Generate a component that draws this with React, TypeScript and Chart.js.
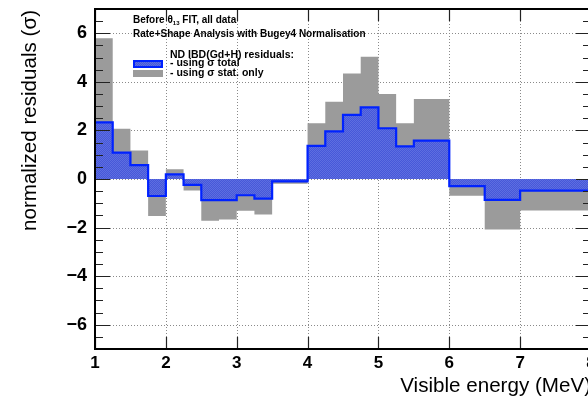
import React, { useEffect, useRef } from "react";
import { Chart, registerables } from "chart.js";

Chart.register(...registerables);

const binEdges = [1, 1.25, 1.5, 1.75, 2, 2.25, 2.5, 2.75, 3, 3.25, 3.5, 4, 4.25, 4.5, 4.75, 5, 5.25, 5.5, 6, 6.5, 7, 8];
const residualsTotal = [2.33, 1.09, 0.57, -0.7, 0.19, -0.24, -0.87, -0.87, -0.67, -0.81, -0.1, 1.36, 1.96, 2.64, 2.95, 2.09, 1.34, 1.58, -0.29, -0.86, -0.48];
const residualsStat = [5.8, 2.07, 1.17, -1.52, 0.4, -0.47, -1.72, -1.67, -1.31, -1.46, -0.2, 2.3, 3.18, 4.34, 5.03, 3.5, 2.3, 3.29, -0.69, -2.08, -1.3];
const xTicks = [1, 2, 3, 4, 5, 6, 7, 8];
const yTicks = [-6, -4, -2, 0, 2, 4, 6];

const FONT = '"Liberation Sans", Arial, Helvetica, sans-serif';

function stepPoints(edges: number[], vals: number[]) {
  const pts: { x: number; y: number }[] = [];
  vals.forEach((v, i) => {
    pts.push({ x: edges[i], y: v });
    pts.push({ x: edges[i + 1], y: v });
  });
  return pts;
}

function makePattern(): CanvasPattern | string {
  const c = document.createElement("canvas");
  c.width = 2;
  c.height = 2;
  const g = c.getContext("2d");
  if (!g) return "#4a5bd8";
  g.fillStyle = "#4658d9";
  g.fillRect(0, 0, 2, 2);
  g.fillStyle = "#5e6ee0";
  g.fillRect(0, 0, 1, 1);
  g.fillRect(1, 1, 1, 1);
  return g.createPattern(c, "repeat") || "#4a5bd8";
}

const gridPlugin = {
  id: "rootGrid",
  beforeDatasetsDraw(chart: any) {
    const { ctx, chartArea: a, scales } = chart;
    const xs = scales.x, ys = scales.y;
    ctx.save();
    ctx.strokeStyle = "#8a8a8a";
    ctx.lineWidth = 1;
    ctx.setLineDash([1, 2]);
    xTicks.forEach((v) => {
      const px = Math.round(xs.getPixelForValue(v)) + 0.5;
      ctx.beginPath();
      ctx.moveTo(px, a.top);
      ctx.lineTo(px, a.bottom);
      ctx.stroke();
    });
    yTicks.forEach((v) => {
      const py = Math.round(ys.getPixelForValue(v)) + 0.5;
      ctx.beginPath();
      ctx.moveTo(a.left, py);
      ctx.lineTo(a.right, py);
      ctx.stroke();
    });
    ctx.restore();
  },
};

const framePlugin = {
  id: "rootFrame",
  afterDatasetsDraw(chart: any) {
    const { ctx, chartArea: a, scales } = chart;
    const xs = scales.x, ys = scales.y;
    ctx.save();
    ctx.setLineDash([]);
    ctx.strokeStyle = "#222";
    ctx.lineWidth = 1.2;
    for (let v = -7; v <= 7.001; v += 0.5) {
      const py = Math.round(ys.getPixelForValue(v)) + 0.5;
      const major = Math.abs(v % 2) < 1e-6;
      const len = major ? 15 : 8;
      ctx.beginPath();
      ctx.moveTo(a.left, py);
      ctx.lineTo(a.left + len, py);
      ctx.moveTo(a.right, py);
      ctx.lineTo(a.right - len, py);
      ctx.stroke();
    }
    xTicks.forEach((v) => {
      const px = Math.round(xs.getPixelForValue(v)) + 0.5;
      ctx.beginPath();
      ctx.moveTo(px, a.bottom);
      ctx.lineTo(px, a.bottom - 12);
      ctx.moveTo(px, a.top);
      ctx.lineTo(px, a.top + 12);
      ctx.stroke();
    });
    ctx.strokeStyle = "#000";
    ctx.lineWidth = 2;
    ctx.strokeRect(a.left, a.top, a.right - a.left, a.bottom - a.top);

    ctx.fillStyle = "#000";
    ctx.textAlign = "left";
    ctx.textBaseline = "alphabetic";
    ctx.font = `bold 10px ${FONT}`;
    let x = 133;
    ctx.fillText("Before ", x, 23);
    x += ctx.measureText("Before ").width;
    ctx.fillText("θ", x, 23);
    x += ctx.measureText("θ").width;
    ctx.font = `bold 6px ${FONT}`;
    ctx.fillText("13", x, 25);
    x += ctx.measureText("13").width;
    ctx.font = `bold 10px ${FONT}`;
    ctx.fillText(" FIT, all data", x, 23);
    ctx.fillText("Rate+Shape Analysis with Bugey4 Normalisation", 133, 37);

    ctx.font = `bold 10.5px ${FONT}`;
    ctx.fillText("ND IBD(Gd+H) residuals:", 170, 58);
    ctx.fillText("- using σ total", 170, 65.5);
    ctx.fillText("- using σ stat. only", 170, 76);

    ctx.fillStyle = chart._bluePattern || "#4a5bd8";
    ctx.fillRect(134, 61, 28, 6);
    ctx.strokeStyle = "#0022ff";
    ctx.lineWidth = 2;
    ctx.strokeRect(134, 61, 28, 6);
    ctx.fillStyle = "#9b9b9b";
    ctx.fillRect(133, 70, 30, 7);

    ctx.fillStyle = "#000";
    ctx.font = `20.6px ${FONT}`;
    ctx.textAlign = "right";
    ctx.fillText("Visible energy (MeV)", xs.getPixelForValue(8), 392);
    ctx.translate(36, 10);
    ctx.rotate(-Math.PI / 2);
    ctx.fillText("normalized residuals (σ)", 0, 0);
    ctx.restore();
  },
};

export default function App() {
  const ref = useRef<HTMLCanvasElement>(null);
  useEffect(() => {
    if (!ref.current) return;
    const pattern = makePattern();
    const chart = new Chart(ref.current, {
      type: "line",
      data: {
        datasets: [
          {
            label: "using σ total",
            data: stepPoints(binEdges, residualsTotal),
            borderColor: "#0022ff",
            borderWidth: 2.2,
            backgroundColor: pattern as any,
            fill: "origin",
            pointRadius: 0,
            tension: 0,
          },
          {
            label: "using σ stat. only",
            data: stepPoints(binEdges, residualsStat),
            borderColor: "#9b9b9b",
            borderWidth: 0,
            backgroundColor: "#9b9b9b",
            fill: "origin",
            pointRadius: 0,
            tension: 0,
          },
        ],
      },
      options: {
        animation: false,
        responsive: false,
        maintainAspectRatio: false,
        layout: { padding: { top: 9, right: 19, left: 0, bottom: 0 } },
        plugins: { legend: { display: false }, tooltip: { enabled: false } },
        scales: {
          x: {
            type: "linear",
            min: 1,
            max: 8,
            grid: { display: false, drawTicks: false },
            border: { display: false },
            afterBuildTicks: (s: any) => {
              s.ticks = xTicks.map((v) => ({ value: v }));
            },
            afterFit: (s: any) => {
              s.height = 48;
              s.paddingLeft = 0;
              s.paddingRight = 0;
            },
            ticks: {
              color: "#000",
              font: { family: FONT, size: 17, weight: "bold" },
              padding: 4,
              maxRotation: 0,
              callback: (v: any) => String(v),
            },
          },
          y: {
            type: "linear",
            min: -7,
            max: 7,
            grid: { display: false, drawTicks: false },
            border: { display: false },
            afterBuildTicks: (s: any) => {
              s.ticks = yTicks.map((v) => ({ value: v }));
            },
            afterFit: (s: any) => {
              s.width = 95;
              s.paddingTop = 0;
              s.paddingBottom = 0;
            },
            ticks: {
              color: "#000",
              font: { family: FONT, size: 18, weight: "bold" },
              padding: 8,
              callback: (v: any) => (Number(v) < 0 ? "\u2212" + Math.abs(Number(v)) : String(v)),
            },
          },
        },
      },
      plugins: [gridPlugin, framePlugin],
    });
    (chart as any)._bluePattern = pattern;
    chart.draw();
    return () => chart.destroy();
  }, []);
  return (
    <div style={{ position: "absolute", left: 0, top: 0, width: 588, height: 397, overflow: "hidden", background: "#fff" }}>
      <canvas ref={ref} width={610} height={397} style={{ display: "block" }} />
    </div>
  );
}
